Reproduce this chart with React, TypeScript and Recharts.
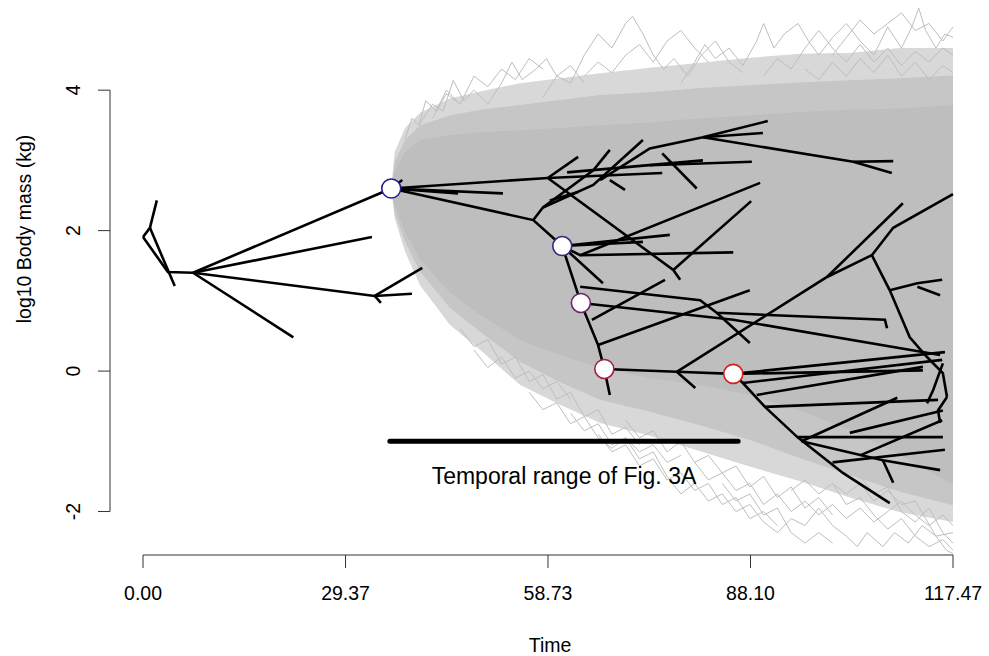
import React from 'react';
import {
  ComposedChart, Line, Area, Scatter, XAxis, YAxis, ReferenceLine, ReferenceDot,
} from 'recharts';

// time ticks (Myr) and body-mass ticks (log10 kg)
const xTicks = [0, 29.37, 58.73, 88.1, 117.47];
const xTickLabels = ['0.00', '29.37', '58.73', '88.10', '117.47'];
const yTicks = [-2, 0, 2, 4];
const yTickLabels = ['-2', '0', '2', '4'];

// simulated-trait cloud: solid core, dense fuzz and sparse outer fuzz
const cloudT = [36.0, 36.5, 38.0, 40.2, 44.5, 48.9, 54.7, 60.5, 66.3, 73.5, 80.8, 88.0, 95.3, 102.5, 109.8, 117.47];
const coreHigh = [2.6, 2.83, 3.12, 3.29, 3.36, 3.4, 3.43, 3.46, 3.5, 3.54, 3.6, 3.64, 3.69, 3.72, 3.74, 3.79];
const coreLow = [2.6, 2.36, 1.98, 1.58, 1.12, 0.8, 0.44, 0.23, 0.04, -0.1, -0.2, -0.34, -0.56, -0.84, -1.2, -1.62];
const midHigh = [2.6, 2.98, 3.29, 3.5, 3.64, 3.72, 3.79, 3.86, 3.93, 3.97, 4.03, 4.07, 4.11, 4.14, 4.17, 4.21];
const midLow = [2.6, 2.26, 1.84, 1.41, 0.9, 0.56, 0.13, -0.16, -0.41, -0.58, -0.77, -0.98, -1.24, -1.48, -1.72, -1.91];
const haloHigh = [2.6, 3.12, 3.46, 3.68, 3.88, 3.98, 4.1, 4.17, 4.24, 4.32, 4.39, 4.46, 4.52, 4.53, 4.6, 4.6];
const haloLow = [2.6, 2.18, 1.7, 1.22, 0.66, 0.3, -0.2, -0.48, -0.74, -0.92, -1.14, -1.36, -1.57, -1.8, -2.01, -2.15];

// stray simulations outside the cloud [t, v]
const strayPaths: number[][][] = [
  [[38, 3.3], [39, 3.6], [40, 3.5], [41, 3.85], [42.5, 3.7], [44, 4.0], [45.5, 3.85]],
  [[40, 3.5], [42, 3.8], [43.5, 3.7], [45, 4.14], [46.5, 3.85], [48, 4.0], [50, 3.8], [52, 4.1], [53.5, 4.4], [55, 4.15], [57, 4.3], [58.5, 4.45], [60, 4.2], [62, 4.35], [64, 4.1]],
  [[42, 3.6], [44, 3.95], [46, 3.8], [48, 4.2], [50, 4.05], [52, 4.3], [54, 4.15], [56, 4.45], [58, 4.3]],
  [[58, 3.9], [60, 4.2], [62, 4.1], [64, 4.5], [66, 4.8], [68, 4.6], [70, 4.95], [71, 5.05], [72.5, 4.8], [74, 4.5], [75.5, 4.3], [77, 4.45], [79, 4.2], [81, 4.5], [83, 4.7], [85, 4.4], [87, 4.25]],
  [[64, 4.2], [66, 4.4], [68, 4.25], [70, 4.5], [72, 4.65], [74, 4.4], [76, 4.7], [78, 4.85], [80, 4.6], [82, 4.4]],
  [[78, 4.1], [80, 4.4], [81.5, 4.65], [83, 4.45], [85, 4.6], [87, 4.35], [89, 4.7], [90, 4.95], [91.5, 4.6], [93, 4.8], [95, 4.95], [96.5, 4.7], [98, 4.5], [100, 4.75], [102, 4.95], [104, 4.7], [106, 4.5], [108, 4.9], [110, 4.6], [111.5, 4.9], [112.5, 5.17], [113.5, 4.85], [115, 4.6], [116.3, 4.8], [117.47, 4.75]],
  [[90, 4.2], [92, 4.45], [94, 4.3], [96, 4.6], [98, 4.85], [100, 4.6], [102, 4.4], [104, 4.65], [106, 4.4], [108, 4.6], [110, 4.35], [112, 4.55], [114, 4.4], [116, 4.6], [117.47, 4.5]],
  [[96, 4.3], [98, 4.15], [100, 4.4], [102, 4.2], [104, 4.45], [106, 4.25], [108, 4.5], [110, 4.2], [112, 4.4], [114, 4.15], [116, 4.35], [117.47, 4.25]],
  [[100, 4.5], [102, 4.75], [104, 5.0], [106, 4.8], [108, 4.95], [110, 5.1], [112, 4.85], [114, 4.95], [116, 4.7], [117.47, 4.9]],
  [[46, 0.6], [48, 0.35], [50, 0.45], [52, 0.1], [54, 0.2], [56, -0.15], [58, -0.05], [60, -0.4], [62, -0.3], [64, -0.65], [66, -0.55], [68, -0.9], [70, -0.8], [72, -1.05]],
  [[48, 0.3], [50, 0.05], [52, 0.2], [54, -0.1], [56, 0.0], [58, -0.25], [60, -0.15], [62, -0.4]],
  [[56, -0.3], [58, -0.55], [60, -0.45], [62, -0.75], [64, -0.65], [66, -0.95], [68, -1.1], [70, -0.95], [72, -1.15], [74, -1.05], [76, -1.3], [78, -1.2]],
  [[62, -0.6], [64, -0.85], [66, -0.75], [68, -1.05], [70, -0.95], [72, -1.25], [74, -1.15], [76, -1.5], [78, -1.75], [80, -1.6], [82, -1.85], [84, -1.75], [86, -2.0], [88, -1.9], [90, -2.15], [92, -2.3], [94, -2.1], [96, -2.2], [98, -1.95], [100, -2.2], [102, -2.35], [103.6, -2.5], [105, -2.3], [107.3, -2.5], [109, -2.3], [111, -2.45], [113, -2.2], [115, -2.35], [117.47, -2.3]],
  [[66, -0.9], [68, -1.15], [70, -1.05], [72, -1.35], [74, -1.25], [76, -1.55], [78, -1.45], [80, -1.7], [82, -1.6], [84, -1.9], [86, -1.8], [88, -2.1], [90, -2.0], [92, -2.2]],
  [[70, -0.7], [72, -0.95], [74, -0.85], [76, -1.15], [78, -1.0], [80, -1.3], [82, -1.2], [84, -1.45], [86, -1.35], [88, -1.65], [90, -1.5], [92, -1.8], [94, -1.65], [96, -1.95], [98, -1.8], [100, -2.05]],
  [[80, -1.3], [82, -1.55], [84, -1.45], [86, -1.7], [88, -1.6], [90, -1.9], [92, -1.75], [94, -2.0], [96, -1.85], [98, -2.05], [100, -1.9], [102, -2.1], [104, -1.95], [106, -2.15], [108, -2.0], [110, -1.85], [112, -2.05], [114, -2.2], [116, -2.05], [117.47, -2.2]],
  [[84, -1.6], [86, -1.85], [88, -1.75], [90, -2.05], [92, -1.95], [94, -2.3], [96, -2.45], [98, -2.3], [100, -2.45]],
  [[94, -1.7], [96, -1.55], [98, -1.75], [100, -1.6], [102, -1.9], [104, -1.8], [106, -2.05], [108, -2.25], [110, -2.1], [112, -2.35], [114, -2.5], [116, -2.4], [117.47, -2.55]],
  [[100, -1.6], [102, -1.75], [104, -1.6], [106, -1.85], [108, -1.7], [110, -1.9], [112, -1.85], [113.5, -2.1], [115, -2.35], [116.5, -2.55], [117.47, -2.6]],
  [[104, -1.5], [106, -1.75], [108, -1.65], [110, -2.0], [112, -2.15], [114, -1.95], [116, -2.3], [117.47, -2.45]],
];

// phenogram branches [t, v]
const branches: number[][][] = [
  [[0, 1.91], [1.0, 2.04], [2.0, 2.43]],
  [[1.0, 2.04], [4.6, 1.21]],
  [[0, 1.91], [3.6, 1.41], [7.25, 1.4]],
  [[7.25, 1.4], [36.0, 2.6]],
  [[7.25, 1.4], [33.2, 1.91]],
  [[7.25, 1.4], [33.6, 1.07], [39.0, 1.1]],
  [[33.6, 1.07], [40.5, 1.47]],
  [[33.6, 1.07], [34.5, 0.97]],
  [[7.25, 1.4], [21.8, 0.48]],
  [[36.0, 2.6], [58.7, 2.75]],
  [[36.0, 2.6], [52.2, 2.53]],
  [[36.0, 2.6], [45.7, 2.53]],
  [[36.0, 2.6], [37.6, 2.72]],
  [[36.0, 2.6], [56.6, 2.15], [60.8, 1.78]],
  [[58.7, 2.75], [63.1, 3.05]],
  [[58.7, 2.75], [76.9, 1.44], [77.9, 1.3]],
  [[76.9, 1.44], [88.2, 2.42]],
  [[58.7, 2.75], [75.3, 2.82]],
  [[61.5, 2.83], [81.2, 3.0]],
  [[56.6, 2.15], [58.0, 2.33], [65.3, 2.86], [67.7, 3.15]],
  [[59.0, 2.43], [63.1, 2.55]],
  [[58.0, 2.33], [65.3, 2.65], [72.5, 3.29]],
  [[66.3, 2.72], [73.5, 3.17], [81.2, 3.33]],
  [[81.2, 3.33], [90.6, 3.56]],
  [[81.2, 3.33], [89.9, 3.39]],
  [[81.2, 3.33], [103.0, 2.98], [108.8, 2.99]],
  [[103.0, 2.98], [108.6, 2.82]],
  [[67.7, 2.72], [69.9, 2.58]],
  [[75.3, 3.1], [80.3, 2.6]],
  [[73.5, 2.93], [88.3, 2.98]],
  [[60.8, 1.78], [76.4, 1.94]],
  [[60.8, 1.78], [72.5, 1.84]],
  [[60.8, 1.78], [63.4, 1.65], [85.6, 1.69]],
  [[63.4, 1.65], [89.5, 2.68]],
  [[60.8, 1.78], [66.7, 1.25]],
  [[60.8, 1.78], [63.5, 0.97]],
  [[63.5, 0.97], [85.6, 0.73], [115.6, 0.23]],
  [[63.4, 1.2], [80.8, 1.01], [83.2, 0.83], [107.6, 0.73], [107.9, 0.61]],
  [[65.1, 0.73], [75.7, 1.3]],
  [[63.5, 0.97], [66.0, 0.37], [66.9, 0.03]],
  [[66.0, 0.37], [88.0, 1.15]],
  [[83.2, 0.83], [88.0, 0.4]],
  [[66.9, 0.03], [67.7, -0.34]],
  [[66.9, 0.03], [77.4, -0.01], [85.6, -0.04]],
  [[77.4, -0.01], [80.1, -0.24]],
  [[77.4, -0.01], [99.2, 1.34], [110.2, 2.39]],
  [[99.2, 1.34], [105.7, 1.65]],
  [[105.7, 1.65], [108.8, 2.04], [117.47, 2.52]],
  [[105.7, 1.65], [108.3, 1.15], [111.2, 0.48], [113.7, 0.2], [116.0, -0.03], [116.6, -0.37]],
  [[108.3, 1.15], [112.3, 1.25], [115.9, 1.3]],
  [[112.3, 1.2], [115.6, 1.08]],
  [[116.6, -0.37], [115.3, -0.56], [115.6, -0.74]],
  [[85.6, -0.04], [113.1, 0.01]],
  [[85.6, -0.04], [116.3, 0.27]],
  [[87.0, -0.17], [115.9, 0.16]],
  [[89.0, -0.34], [113.1, 0.06]],
  [[85.6, -0.04], [87.0, -0.17], [90.2, -0.51], [94.9, -0.94], [101.5, -1.45], [108.3, -1.88]],
  [[90.2, -0.51], [115.3, -0.41]],
  [[94.9, -0.94], [116.0, -0.94]],
  [[95.5, -1.0], [107.3, -1.27], [115.6, -1.41]],
  [[95.5, -1.0], [109.4, -0.38]],
  [[107.3, -1.27], [108.8, -1.59]],
  [[100.0, -1.3], [116.3, -1.12]],
  [[104.0, -1.2], [115.9, -0.7]],
  [[102.5, -0.88], [116.0, -0.56]],
  [[116.0, 0.11], [114.6, -0.27], [113.7, -0.46]],
];

// highlighted ancestral nodes
const nodeT = [36.0, 60.8, 63.5, 66.9, 85.6];
const nodeV = [2.6, 1.78, 0.97, 0.03, -0.04];
const nodeColors = ['#1f1f8a', '#3a2580', '#6c2566', '#a8203c', '#d22222'];

// bar marking the temporal range of Fig. 3A
const rangeT = [35.8, 86.3];
const rangeV = -1.0;
const rangeLabel = 'Temporal range of Fig. 3A';

const X_MIN = -4.79;
const X_MAX = 117.47;
const Y_MIN = -2.619;
const Y_MAX = 5.167;

const FONT = '"Liberation Sans", Arial, Helvetica, sans-serif';
const GRAY = '#bebebe';

const toPts = (p: number[][]) => p.map(([t, v]) => ({ t, v }));
const band = (lo: number[], hi: number[]) => cloudT.map((t, i) => ({ t, band: [lo[i], hi[i]] }));

const coreData = band(coreLow, coreHigh);
const midData = band(midLow, midHigh);
const haloData = band(haloLow, haloHigh);
const rangeData = rangeT.map((t) => ({ t, v: rangeV }));

const XTick = (props: any) => {
  const { x, y, index } = props;
  return (
    <text x={x} y={y + 30} textAnchor="middle" fontFamily={FONT} fontSize={19.5} fill="#000">
      {xTickLabels[index]}
    </text>
  );
};

const YTick = (props: any) => {
  const { x, y, index } = props;
  const bx = x - 16;
  return (
    <text x={bx} y={y} transform={`rotate(-90 ${bx} ${y})`} textAnchor="middle" fontFamily={FONT} fontSize={19.5} fill="#000">
      {yTickLabels[index]}
    </text>
  );
};

export default function App() {
  return (
    <div style={{ position: 'absolute', left: 0, top: 0, width: 989, height: 656, background: '#fff' }}>
      <ComposedChart width={989} height={656} margin={{ top: 8, right: 36, bottom: 41, left: 50 }}>
        <XAxis
          type="number"
          dataKey="t"
          domain={[X_MIN, X_MAX]}
          ticks={xTicks}
          tick={<XTick />}
          tickSize={13}
          axisLine={false}
          tickLine={{ stroke: '#333', strokeWidth: 1 }}
          height={60}
          label={{
            content: () => (
              <text x={550} y={652} textAnchor="middle" fontFamily={FONT} fontSize={19.5} fill="#000">Time</text>
            ),
          }}
        />
        <YAxis
          type="number"
          dataKey="v"
          domain={[Y_MIN, Y_MAX]}
          ticks={yTicks}
          tick={<YTick />}
          tickSize={12}
          axisLine={false}
          tickLine={{ stroke: '#333', strokeWidth: 1 }}
          width={60}
          label={{
            content: () => (
              <text x={31} y={229} transform="rotate(-90 31 229)" textAnchor="middle" fontFamily={FONT} fontSize={19.5} fill="#000">
                log10 Body mass (kg)
              </text>
            ),
          }}
        />

        <Area data={haloData} dataKey="band" type="linear" stroke="none" fill="#d8d8d8" fillOpacity={1} isAnimationActive={false} />
        <Area data={midData} dataKey="band" type="linear" stroke="none" fill="#c6c6c6" fillOpacity={1} isAnimationActive={false} />
        <Area data={coreData} dataKey="band" type="linear" stroke="none" fill={GRAY} fillOpacity={1} isAnimationActive={false} />

        {strayPaths.map((p, i) => (
          <Line key={`s${i}`} data={toPts(p)} dataKey="v" type="linear" stroke={GRAY} strokeWidth={1} dot={false} activeDot={false} isAnimationActive={false} />
        ))}

        {branches.map((p, i) => (
          <Line key={`b${i}`} data={toPts(p)} dataKey="v" type="linear" stroke="#000" strokeWidth={2.6} dot={false} activeDot={false} isAnimationActive={false} />
        ))}

        <Line data={rangeData} dataKey="v" type="linear" stroke="#000" strokeWidth={5} strokeLinecap="round" dot={false} activeDot={false} isAnimationActive={false} />

        <ReferenceDot
          x={(rangeT[0] + rangeT[1]) / 2}
          y={-1.5}
          ifOverflow="visible"
          shape={(p: any) => (
            <text x={p.cx} y={p.cy + 8} textAnchor="middle" fontFamily={FONT} fontSize={23} fill="#000">{rangeLabel}</text>
          )}
        />

        {nodeT.map((t, i) => (
          <Scatter
            key={`n${i}`}
            data={[{ t, v: nodeV[i] }]}
            isAnimationActive={false}
            shape={(p: any) => (
              <circle cx={p.cx} cy={p.cy} r={9.5} fill="#fff" stroke={nodeColors[i]} strokeWidth={1.6} />
            )}
          />
        ))}

        <ReferenceLine segment={[{ x: 0, y: Y_MIN }, { x: X_MAX, y: Y_MIN }]} stroke="#333" strokeWidth={1} ifOverflow="visible" />
        <ReferenceLine segment={[{ x: X_MIN, y: -2 }, { x: X_MIN, y: 4 }]} stroke="#333" strokeWidth={1} ifOverflow="visible" />
      </ComposedChart>
    </div>
  );
}
